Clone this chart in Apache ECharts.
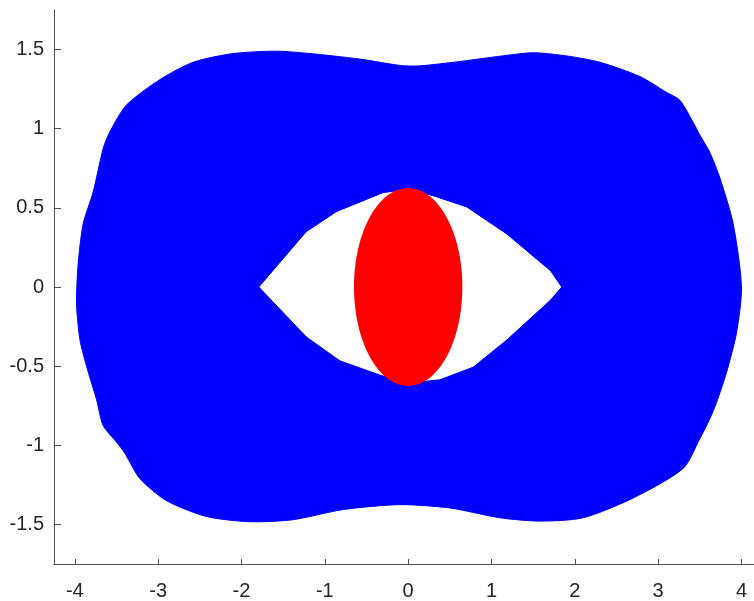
<!DOCTYPE html>
<html>
<head>
<meta charset="utf-8">
<script src="https://cdn.jsdelivr.net/npm/echarts@6/dist/echarts.min.js"></script>
<style>html,body{margin:0;padding:0;background:#fff;}#c{width:754px;height:601px;}</style>
</head>
<body>
<div id="c"></div>
<script>
// Outer boundary of the blue region
const outerX = [4.00, 3.90, 3.74, 3.62, 3.50, 3.42, 3.26, 3.10, 2.78, 2.30, 1.90, 1.50, 1.10, 0.70, 0.30, 0.10, -0.10, -0.58, -1.18, -1.58, -2.10, -2.58, -2.98, -3.38, -3.58, -3.66, -3.78, -3.90, -3.96, -3.98, -3.94, -3.86, -3.74, -3.66, -3.50, -3.40, -3.22, -2.90, -2.42, -1.90, -1.38, -0.78, -0.10, 0.50, 1.10, 1.58, 2.10, 2.70, 3.30, 3.50, 3.62, 3.70, 3.82, 3.94];
const outerY = [0.00, 0.40, 0.69, 0.85, 0.96, 1.04, 1.18, 1.23, 1.33, 1.42, 1.46, 1.48, 1.458, 1.43, 1.405, 1.396, 1.40, 1.44, 1.475, 1.49, 1.475, 1.42, 1.31, 1.15, 0.98, 0.875, 0.60, 0.40, 0.146, -0.10, -0.33, -0.50, -0.71, -0.875, -0.98, -1.05, -1.21, -1.35, -1.45, -1.483, -1.47, -1.406, -1.375, -1.396, -1.458, -1.479, -1.458, -1.333, -1.146, -0.958, -0.833, -0.73, -0.54, -0.29];
// Inner (eye-shaped) hole
const holeX = [1.83, 1.70, 1.18, 0.70, 0.30, 0.00, -0.30, -0.86, -1.22, -1.78, -1.22, -0.82, -0.34, 0.00, 0.38, 0.78, 1.18, 1.70];
const holeY = [0.00, 0.10, 0.33, 0.50, 0.57, 0.61, 0.59, 0.47, 0.344, 0.00, -0.31, -0.46, -0.55, -0.60, -0.58, -0.50, -0.33, -0.08];
// Red ellipse: center and semi-axes
const ellipseCenter = [0.0, 0.0];
const ellipseRadii = [0.65, 0.625];
// Tick values
const xTicks = [-4, -3, -2, -1, 0, 1, 2, 3, 4];
const yTicks = [-1.5, -1, -0.5, 0, 0.5, 1, 1.5];

const chart = echarts.init(document.getElementById('c'), null, {renderer: 'canvas'});

function polyItem(xs, ys, color, smooth) {
  return function (params, api) {
    const pts = xs.map((x, i) => api.coord([x, ys[i]]));
    return {
      type: 'polygon',
      shape: {points: pts, smooth: smooth},
      style: {fill: color, stroke: color, lineWidth: 1}
    };
  };
}

const axisTextColor = '#262626';
const axisLineColor = '#4d4d4d';
const font = 'Liberation Sans, Arial, sans-serif';

chart.setOption({
  animation: false,
  backgroundColor: '#ffffff',
  grid: {left: 54, right: 0, top: 10, bottom: 32, containLabel: false},
  xAxis: {
    type: 'value', min: -4.25, max: 4.15,
    axisLine: {show: true, onZero: false, lineStyle: {color: axisLineColor, width: 1}},
    axisTick: {show: true, inside: true, length: 5, lineStyle: {color: axisLineColor}, customValues: xTicks},
    axisLabel: {color: axisTextColor, fontSize: 20, fontFamily: font, margin: 17, customValues: xTicks},
    splitLine: {show: false}
  },
  yAxis: {
    type: 'value', min: -1.75, max: 1.75,
    axisLine: {show: true, onZero: false, lineStyle: {color: axisLineColor, width: 1}},
    axisTick: {show: true, inside: true, length: 7, lineStyle: {color: axisLineColor}, customValues: yTicks},
    axisLabel: {color: axisTextColor, fontSize: 20, fontFamily: font, margin: 10, customValues: yTicks},
    splitLine: {show: false}
  },
  series: [
    {type: 'custom', renderItem: polyItem(outerX, outerY, '#0000ff', 0.25), data: [0], clip: true, z: 1},
    {type: 'custom', renderItem: polyItem(holeX, holeY, '#ffffff', 0), data: [0], clip: true, z: 2},
    {type: 'custom', z: 3, data: [0], renderItem: function (params, api) {
      const c = api.coord(ellipseCenter);
      const s = api.size(ellipseRadii);
      return {type: 'ellipse', shape: {cx: c[0], cy: c[1], rx: s[0], ry: s[1]}, style: {fill: '#ff0000'}};
    }}
  ]
});
</script>
</body>
</html>
